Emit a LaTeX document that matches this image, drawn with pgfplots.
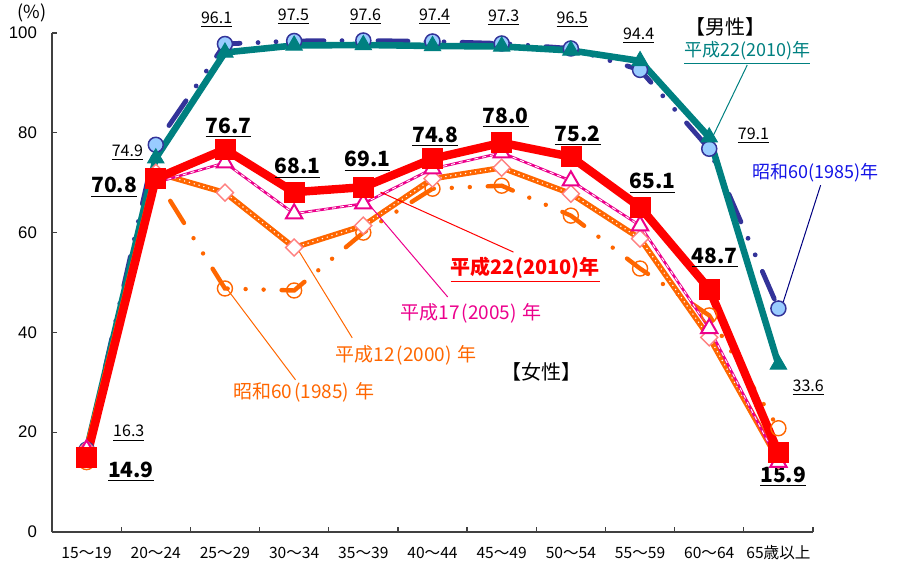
\documentclass[border=0pt]{standalone}
\usepackage{fontspec}
\setmainfont{Liberation Sans}
\newfontfamily\jp{Noto Sans CJK JP}
\usepackage{pgfplots}
\usepackage{pgfplotstable}
\pgfplotsset{compat=1.18}
\definecolor{mblue}{RGB}{51,51,153}
\definecolor{lblue}{RGB}{153,204,255}
\definecolor{tealc}{RGB}{0,128,128}
\definecolor{orng}{RGB}{255,102,0}
\definecolor{pinkd}{RGB}{255,128,128}
\definecolor{bluet}{RGB}{20,20,230}
\definecolor{navyl}{RGB}{0,0,128}
\newcommand{\ml}[1]{{\jp\fontsize{8}{9}\selectfont\underline{#1}}}
\newcommand{\fl}[1]{{\jp\bfseries\fontsize{10.5}{12}\selectfont\underline{#1}}}
\newcommand{\an}{\jp\fontsize{9.5}{11}\selectfont}
\pgfplotstableread{
x m85 m10 f85 f00 f05 f10
0 16.5 16.3 14.0 16.6 16.5 14.9
1 77.6 74.9 71.0 72.0 70.0 70.8
2 97.8 96.1 48.8 68.0 74.0 76.7
3 98.4 97.5 48.4 57.0 63.8 68.1
4 98.5 97.6 60.0 61.4 65.8 69.1
5 98.3 97.4 68.8 70.8 72.8 74.8
6 97.9 97.3 69.4 73.0 76.0 78.0
7 96.9 96.5 63.4 67.8 70.4 75.2
8 92.6 94.4 52.8 58.8 61.4 65.1
9 76.8 79.1 43.4 39.0 40.8 48.7
10 44.8 33.6 20.8 14.4 14.0 15.9
}\datatable
\begin{document}
\begin{tikzpicture}
\useasboundingbox (0,0) rectangle (449pt,281.5pt);
\begin{axis}[
  at={(26pt,15.5pt)}, anchor=south west,
  scale only axis, width=380.5pt, height=249.5pt,
  xmin=-0.5, xmax=10.5, ymin=0, ymax=100,
  axis x line=bottom, axis y line=left,
  axis line style={-, black!75, line width=0.7pt},
  xtick={0,...,10},
  xticklabels={15～19,20～24,25～29,30～34,35～39,40～44,45～49,50～54,55～59,60～64,65歳以上},
  minor xtick={-0.5,0.5,...,10.5},
  major x tick style={draw=none},
  ytick={0,20,...,100},
  tick align=inside, major tick length=2.5pt, minor tick length=2.5pt,
  tick style={black!75, line width=0.6pt},
  /pgf/number format/assume math mode=true,
  x tick label style={font=\jp\fontsize{7.8}{9}\selectfont, anchor=base, yshift=-13pt},
  y tick label style={font=\fontsize{8.4}{10}\selectfont, xshift=-4pt},
  clip=false,
]
% male 1985
\addplot[mblue, line width=2.4pt, line cap=round, dash pattern=on 15pt off 9pt on 0pt off 9pt on 0pt off 9pt, mark=*, mark size=3.75pt, mark options={solid, fill=lblue, draw=mblue, line width=0.75pt}] table[x=x,y=m85]{\datatable};
% male 2010
\addplot[tealc, line width=3.3pt, mark=triangle*, mark size=4.7pt, mark options={solid, fill=tealc, line width=0.5pt}] table[x=x,y=m10]{\datatable};
% female 1985
\addplot[orng, line width=2.2pt, line cap=round, dash pattern=on 13pt off 9pt on 0pt off 9pt on 0pt off 9pt, mark=o, mark size=3.75pt, mark options={solid, fill=white, draw=orng, line width=0.7pt}] table[x=x,y=f85]{\datatable};
% female 2000
\addplot[orng, line width=2.8pt, no marks] table[x=x,y=f00]{\datatable};
\addplot[white, line width=0.8pt, line cap=round, dash pattern=on 0pt off 2.5pt, no marks] table[x=x,y=f00]{\datatable};
\addplot[draw=none, mark=square*, mark size=3pt, mark options={rotate=45, fill=white, draw=pinkd, line width=0.7pt}] table[x=x,y=f00]{\datatable};
% female 2005
\addplot[magenta, line width=1.3pt, no marks] table[x=x,y=f05]{\datatable};
\addplot[white, line width=0.45pt, dash pattern=on 2pt off 2pt, no marks] table[x=x,y=f05]{\datatable};
\addplot[draw=none, mark=triangle*, mark size=4.7pt, mark options={fill=white, draw=magenta, line width=1pt}] table[x=x,y=f05]{\datatable};
% female 2010
\addplot[red, line width=4.2pt, mark=square*, mark size=5pt, mark options={solid, fill=red, draw=red, line width=0.3pt}] table[x=x,y=f10]{\datatable};

% male labels
\node at (0.61,19.8) {\ml{16.3}};
\node at (0.59,76.0) {\ml{74.9}};
\node at (1.88,102.6) {\ml{96.1}};
\node at (2.99,103.2) {\ml{97.5}};
\node at (4.03,103.2) {\ml{97.6}};
\node at (5.03,103.2) {\ml{97.4}};
\node at (6.03,103.0) {\ml{97.3}};
\node at (7.02,102.6) {\ml{96.5}};
\node at (7.98,99.4) {\ml{94.4}};
\node at (9.64,79.4) {\ml{79.1}};
\node at (10.43,28.9) {\ml{33.6}};
% female 2010 labels
\node at (0.64,12.0) {\fl{14.9}};
\node at (0.40,69.1) {\fl{70.8}};
\node at (2.05,81.0) {\fl{76.7}};
\node at (3.05,72.9) {\fl{68.1}};
\node at (4.06,74.3) {\fl{69.1}};
\node at (5.04,79.2) {\fl{74.8}};
\node at (6.06,83.0) {\fl{78.0}};
\node at (7.10,79.4) {\fl{75.2}};
\node at (8.18,69.9) {\fl{65.1}};
\node at (9.08,54.9) {\fl{48.7}};
\node at (10.07,11.0) {\fl{15.9}};
% leader lines
\draw[tealc, line width=0.5pt] (9.55,93.6) -- (9.05,79.2);
\draw[navyl, line width=0.5pt] (10.61,69.5) -- (10.07,46.1);
\draw[red, line width=0.5pt] (6.17,56.1) -- (4.25,68.1);
\draw[magenta, line width=0.5pt] (5.22,47.1) -- (4.03,66.5);
\draw[orng, line width=0.5pt] (3.84,38.9) -- (3.06,56.5);
\draw[orng, line width=0.5pt] (3.02,30.5) -- (2.02,48.9);
% annotations
\node at (-0.79,104) {\jp\fontsize{9}{10}\selectfont (\%)};
\node at (9.23,101.2) {\jp\fontsize{10}{11}\selectfont 【男性】};
\node[text=tealc] at (9.55,96.0) {\jp\fontsize{9}{10}\selectfont\underline{平成22(2010)年}};
\node[text=bluet] at (10.54,72.1) {\jp\fontsize{9}{10}\selectfont 昭和60(1985)年};
\node[text=red] at (6.34,52.5) {\jp\bfseries\fontsize{10}{11}\selectfont\underline{平成22(2010)年}};
\node[text=magenta] at (5.56,43.9) {\an 平成17\kern1pt(2005)\kern3pt年};
\node[text=orng] at (4.62,35.5) {\an 平成12\kern1pt(2000)\kern3pt年};
\node[text=orng] at (3.14,27.9) {\an 昭和60\kern1pt(1985)\kern3pt年};
\node at (6.58,32.0) {\jp\fontsize{10}{11}\selectfont 【女性】};
\end{axis}
\end{tikzpicture}
\end{document}
